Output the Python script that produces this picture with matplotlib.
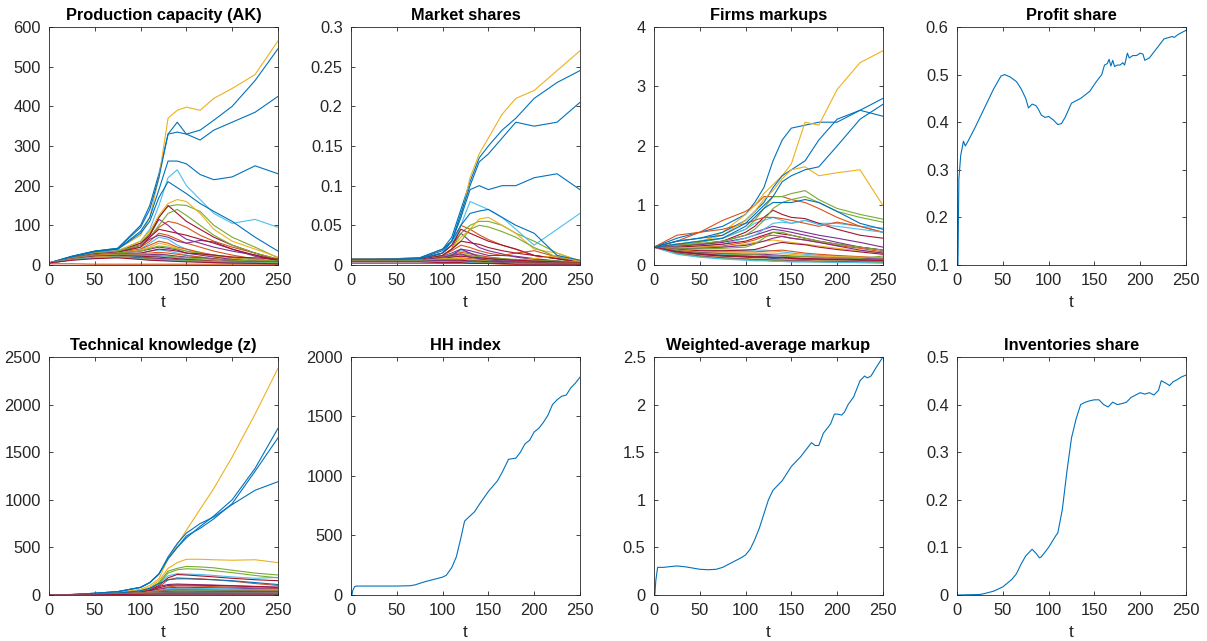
import matplotlib
matplotlib.use("Agg")
import matplotlib.pyplot as plt
from matplotlib.ticker import FuncFormatter, MultipleLocator
from cycler import cycler

# MATLAB default line colours
matlab_colors = ['#0072BD', '#D95319', '#EDB120', '#7E2F8E', '#77AC30', '#4DBEEE', '#A2142F']
plt.rcParams['axes.prop_cycle'] = cycler(color=matlab_colors)
plt.rcParams['font.family'] = ['Liberation Sans', 'DejaVu Sans']

# sampling times for the firm-level series
t_firm = [0, 25, 50, 75, 100, 110, 120, 130, 140, 150, 165, 180, 200, 225, 250]

# production capacity (AK), one row per firm
capacity = [
    [5, 22, 35, 42, 100, 150, 230, 330, 360, 330, 340, 365, 400, 465, 545],
    [5, 18, 28, 33, 50, 70, 95, 110, 105, 95, 75, 60, 45, 30, 15],
    [5, 20, 32, 40, 75, 120, 220, 370, 390, 398, 390, 420, 445, 480, 565],
    [5, 20, 30, 35, 50, 75, 115, 100, 80, 65, 55, 45, 35, 25, 12],
    [5, 20, 30, 35, 55, 80, 120, 148, 152, 150, 135, 100, 70, 45, 18],
    [5, 20, 30, 36, 60, 90, 150, 220, 240, 200, 165, 130, 105, 115, 95],
    [5, 20, 30, 35, 55, 75, 120, 150, 130, 110, 90, 70, 50, 30, 12],
    [5, 22, 35, 42, 95, 140, 220, 330, 335, 330, 315, 340, 360, 385, 425],
    [5, 18, 28, 32, 45, 60, 80, 75, 65, 55, 45, 35, 25, 15, 8],
    [5, 20, 30, 35, 60, 85, 125, 155, 165, 160, 130, 90, 60, 40, 20],
    [5, 18, 28, 32, 50, 65, 75, 70, 60, 55, 62, 58, 40, 22, 10],
    [5, 20, 30, 35, 50, 70, 100, 130, 140, 125, 100, 75, 50, 30, 15],
    [5, 18, 28, 32, 40, 55, 70, 65, 50, 40, 30, 22, 15, 10, 6],
    [5, 18, 28, 32, 45, 70, 90, 85, 80, 75, 65, 55, 40, 25, 10],
    [5, 21, 34, 40, 85, 120, 190, 262, 262, 255, 228, 215, 222, 250, 230],
    [5, 17, 26, 30, 40, 50, 60, 55, 45, 40, 32, 25, 18, 12, 6],
    [5, 17, 26, 30, 38, 45, 55, 50, 42, 35, 28, 22, 16, 12, 8],
    [5, 17, 26, 30, 35, 40, 45, 42, 38, 30, 25, 20, 14, 9, 5],
    [5, 17, 26, 30, 35, 42, 48, 45, 40, 35, 30, 25, 20, 15, 10],
    [5, 16, 25, 28, 30, 35, 38, 35, 30, 25, 20, 15, 10, 7, 4],
    [5, 16, 25, 28, 30, 35, 40, 38, 35, 30, 28, 25, 20, 18, 15],
    [5, 21, 34, 40, 80, 110, 170, 210, 195, 180, 155, 135, 110, 70, 35],
    [5, 16, 24, 27, 28, 30, 32, 30, 27, 24, 20, 16, 12, 8, 5],
    [5, 16, 24, 27, 27, 28, 28, 25, 22, 18, 14, 10, 8, 6, 4],
    [5, 15, 23, 25, 25, 26, 27, 25, 22, 20, 18, 15, 12, 10, 8],
    [5, 15, 23, 25, 24, 24, 24, 22, 20, 18, 16, 14, 12, 10, 8],
    [5, 15, 22, 24, 22, 22, 21, 20, 18, 15, 12, 9, 7, 5, 3],
    [5, 15, 22, 24, 22, 21, 20, 18, 16, 14, 12, 10, 9, 8, 7],
    [5, 14, 20, 22, 20, 18, 16, 14, 12, 10, 8, 6, 5, 4, 3],
    [3, 3, 2, 2, 2, 2, 2, 2, 2, 2, 2, 2, 2, 2, 2],
    [5, 14, 20, 22, 18, 16, 15, 14, 12, 10, 9, 8, 6, 5, 4],
    [5, 13, 18, 20, 18, 17, 16, 15, 14, 12, 10, 8, 7, 6, 5],
    [5, 13, 18, 20, 16, 15, 14, 13, 12, 11, 10, 9, 8, 7, 6],
    [5, 13, 18, 20, 15, 13, 12, 11, 10, 9, 8, 7, 6, 5, 4],
    [5, 12, 16, 18, 14, 12, 11, 10, 9, 8, 7, 6, 5, 4, 3],
]

# market shares
shares = [
    [0.007, 0.007, 0.008, 0.009, 0.02, 0.035, 0.07, 0.105, 0.135, 0.15, 0.17, 0.185, 0.21, 0.23, 0.245],
    [0.007, 0.007, 0.007, 0.007, 0.012, 0.02, 0.05, 0.045, 0.038, 0.032, 0.025, 0.02, 0.012, 0.008, 0.004],
    [0.007, 0.007, 0.007, 0.008, 0.02, 0.03, 0.06, 0.11, 0.14, 0.16, 0.19, 0.21, 0.22, 0.245, 0.27],
    [0.007, 0.007, 0.007, 0.007, 0.015, 0.025, 0.04, 0.03, 0.022, 0.018, 0.014, 0.01, 0.007, 0.005, 0.002],
    [0.007, 0.007, 0.007, 0.007, 0.012, 0.02, 0.04, 0.05, 0.055, 0.055, 0.05, 0.04, 0.03, 0.015, 0.005],
    [0.007, 0.007, 0.007, 0.008, 0.015, 0.025, 0.05, 0.08, 0.075, 0.07, 0.06, 0.045, 0.025, 0.045, 0.065],
    [0.007, 0.007, 0.007, 0.007, 0.015, 0.025, 0.045, 0.04, 0.035, 0.03, 0.025, 0.02, 0.012, 0.008, 0.003],
    [0.007, 0.007, 0.008, 0.009, 0.02, 0.03, 0.065, 0.1, 0.13, 0.14, 0.16, 0.18, 0.175, 0.18, 0.205],
    [0.007, 0.007, 0.007, 0.007, 0.012, 0.018, 0.025, 0.022, 0.018, 0.015, 0.012, 0.015, 0.018, 0.01, 0.004],
    [0.007, 0.007, 0.007, 0.007, 0.012, 0.02, 0.035, 0.045, 0.058, 0.06, 0.05, 0.04, 0.02, 0.015, 0.005],
    [0.007, 0.007, 0.007, 0.007, 0.011, 0.015, 0.02, 0.018, 0.015, 0.012, 0.012, 0.011, 0.008, 0.005, 0.003],
    [0.007, 0.007, 0.007, 0.007, 0.012, 0.02, 0.03, 0.045, 0.05, 0.048, 0.042, 0.035, 0.022, 0.01, 0.004],
    [0.007, 0.007, 0.007, 0.007, 0.01, 0.014, 0.018, 0.015, 0.012, 0.01, 0.008, 0.006, 0.005, 0.004, 0.003],
    [0.007, 0.007, 0.007, 0.007, 0.012, 0.02, 0.03, 0.028, 0.026, 0.022, 0.018, 0.015, 0.012, 0.008, 0.004],
    [0.007, 0.007, 0.007, 0.008, 0.018, 0.03, 0.06, 0.095, 0.1, 0.095, 0.1, 0.1, 0.11, 0.115, 0.095],
    [0.006, 0.006, 0.006, 0.006, 0.01, 0.013, 0.016, 0.014, 0.012, 0.01, 0.008, 0.006, 0.004, 0.003, 0.002],
    [0.006, 0.006, 0.006, 0.006, 0.01, 0.012, 0.014, 0.012, 0.01, 0.008, 0.007, 0.006, 0.008, 0.012, 0.004],
    [0.006, 0.006, 0.006, 0.006, 0.009, 0.012, 0.02, 0.015, 0.01, 0.008, 0.006, 0.005, 0.004, 0.003, 0.002],
    [0.006, 0.006, 0.006, 0.006, 0.009, 0.011, 0.013, 0.012, 0.01, 0.009, 0.008, 0.007, 0.006, 0.005, 0.004],
    [0.006, 0.006, 0.006, 0.006, 0.008, 0.01, 0.012, 0.01, 0.008, 0.006, 0.005, 0.004, 0.003, 0.002, 0.001],
    [0.006, 0.006, 0.006, 0.006, 0.008, 0.01, 0.011, 0.01, 0.009, 0.008, 0.007, 0.006, 0.005, 0.004, 0.003],
    [0.007, 0.007, 0.007, 0.008, 0.015, 0.03, 0.05, 0.065, 0.068, 0.07, 0.06, 0.05, 0.04, 0.012, 0.006],
    [0.005, 0.005, 0.005, 0.005, 0.007, 0.008, 0.009, 0.008, 0.007, 0.006, 0.005, 0.004, 0.003, 0.002, 0.002],
    [0.005, 0.005, 0.005, 0.006, 0.008, 0.008, 0.008, 0.007, 0.006, 0.005, 0.004, 0.003, 0.003, 0.002, 0.002],
    [0.005, 0.005, 0.005, 0.006, 0.01, 0.012, 0.014, 0.01, 0.008, 0.006, 0.005, 0.004, 0.003, 0.002, 0.001],
    [0.005, 0.005, 0.005, 0.006, 0.007, 0.007, 0.007, 0.006, 0.005, 0.005, 0.004, 0.003, 0.003, 0.002, 0.002],
    [0.005, 0.005, 0.005, 0.005, 0.006, 0.006, 0.006, 0.005, 0.004, 0.004, 0.003, 0.003, 0.002, 0.002, 0.001],
    [0.005, 0.005, 0.005, 0.005, 0.006, 0.006, 0.006, 0.005, 0.005, 0.004, 0.004, 0.003, 0.003, 0.002, 0.002],
    [0.005, 0.005, 0.005, 0.005, 0.005, 0.004, 0.004, 0.003, 0.003, 0.003, 0.002, 0.002, 0.002, 0.001, 0.001],
    [0.002, 0.002, 0.002, 0.002, 0.002, 0.002, 0.002, 0.002, 0.002, 0.002, 0.001, 0.001, 0.001, 0.001, 0.001],
    [0.005, 0.005, 0.005, 0.005, 0.004, 0.004, 0.003, 0.003, 0.003, 0.002, 0.002, 0.002, 0.002, 0.001, 0.001],
    [0.005, 0.005, 0.005, 0.005, 0.005, 0.005, 0.004, 0.004, 0.003, 0.003, 0.003, 0.002, 0.002, 0.002, 0.001],
    [0.005, 0.005, 0.005, 0.005, 0.004, 0.004, 0.004, 0.003, 0.003, 0.003, 0.002, 0.002, 0.002, 0.001, 0.001],
    [0.004, 0.004, 0.004, 0.004, 0.004, 0.003, 0.003, 0.003, 0.002, 0.002, 0.002, 0.002, 0.001, 0.001, 0.001],
    [0.004, 0.004, 0.004, 0.004, 0.003, 0.003, 0.003, 0.002, 0.002, 0.002, 0.002, 0.001, 0.001, 0.001, 0.001],
]

# firm markups
markups = [
    [0.3, 0.45, 0.55, 0.65, 0.85, 1.05, 1.3, 1.75, 2.1, 2.3, 2.35, 2.4, 2.4, 2.6, 2.5],
    [0.3, 0.4, 0.55, 0.75, 0.9, 1.0, 1.15, 1.15, 1.15, 1.1, 1.05, 0.95, 0.8, 0.65, 0.55],
    [0.3, 0.32, 0.38, 0.55, 0.85, 1.0, 1.2, 1.35, 1.5, 1.7, 2.4, 2.35, 2.95, 3.4, 3.6],
    [0.3, 0.33, 0.35, 0.4, 0.5, 0.55, 0.6, 0.65, 0.62, 0.6, 0.55, 0.5, 0.45, 0.38, 0.3],
    [0.3, 0.35, 0.38, 0.45, 0.6, 0.75, 0.95, 1.15, 1.15, 1.2, 1.25, 1.1, 0.95, 0.85, 0.77],
    [0.3, 0.35, 0.4, 0.45, 0.6, 0.7, 0.75, 0.8, 0.75, 0.7, 0.75, 0.7, 0.7, 0.65, 0.62],
    [0.3, 0.33, 0.35, 0.4, 0.55, 0.65, 0.8, 0.92, 0.85, 0.8, 0.78, 0.7, 0.6, 0.5, 0.45],
    [0.3, 0.4, 0.45, 0.55, 0.75, 0.9, 1.05, 1.3, 1.5, 1.6, 1.75, 2.1, 2.45, 2.6, 2.8],
    [0.3, 0.5, 0.55, 0.6, 0.7, 0.75, 0.8, 0.8, 0.78, 0.75, 0.7, 0.65, 0.72, 0.65, 0.55],
    [0.3, 0.35, 0.4, 0.5, 0.75, 0.9, 1.1, 1.25, 1.45, 1.6, 1.65, 1.5, 1.55, 1.6, 1.0],
    [0.3, 0.32, 0.34, 0.38, 0.45, 0.5, 0.55, 0.6, 0.58, 0.55, 0.5, 0.45, 0.38, 0.3, 0.25],
    [0.3, 0.33, 0.36, 0.4, 0.5, 0.6, 0.75, 0.95, 1.05, 1.1, 1.15, 1.05, 0.9, 0.8, 0.72],
    [0.3, 0.3, 0.32, 0.35, 0.45, 0.5, 0.6, 0.7, 0.72, 0.7, 0.75, 0.68, 0.65, 0.6, 0.55],
    [0.3, 0.3, 0.32, 0.35, 0.4, 0.45, 0.5, 0.55, 0.52, 0.5, 0.45, 0.4, 0.35, 0.3, 0.25],
    [0.3, 0.4, 0.45, 0.5, 0.7, 0.85, 1.0, 1.15, 1.4, 1.5, 1.6, 1.65, 2.0, 2.45, 2.7],
    [0.3, 0.28, 0.3, 0.32, 0.38, 0.42, 0.48, 0.5, 0.48, 0.45, 0.42, 0.38, 0.33, 0.28, 0.22],
    [0.3, 0.28, 0.3, 0.3, 0.35, 0.38, 0.4, 0.42, 0.4, 0.38, 0.35, 0.32, 0.28, 0.24, 0.2],
    [0.3, 0.27, 0.28, 0.3, 0.33, 0.36, 0.4, 0.45, 0.48, 0.45, 0.42, 0.38, 0.32, 0.25, 0.2],
    [0.3, 0.27, 0.27, 0.28, 0.3, 0.35, 0.45, 0.55, 0.55, 0.5, 0.45, 0.4, 0.35, 0.3, 0.25],
    [0.3, 0.26, 0.25, 0.25, 0.25, 0.25, 0.25, 0.24, 0.22, 0.2, 0.18, 0.16, 0.15, 0.13, 0.12],
    [0.3, 0.26, 0.24, 0.24, 0.25, 0.26, 0.3, 0.35, 0.38, 0.36, 0.34, 0.3, 0.26, 0.22, 0.18],
    [0.3, 0.35, 0.4, 0.45, 0.65, 0.8, 0.95, 1.05, 1.05, 1.05, 1.1, 1.05, 0.9, 0.7, 0.6],
    [0.3, 0.25, 0.22, 0.22, 0.22, 0.22, 0.23, 0.24, 0.25, 0.23, 0.2, 0.18, 0.16, 0.14, 0.12],
    [0.3, 0.25, 0.22, 0.2, 0.2, 0.2, 0.2, 0.2, 0.19, 0.18, 0.16, 0.15, 0.14, 0.13, 0.12],
    [0.3, 0.24, 0.21, 0.19, 0.18, 0.18, 0.18, 0.17, 0.16, 0.15, 0.14, 0.13, 0.12, 0.11, 0.1],
    [0.3, 0.24, 0.2, 0.18, 0.17, 0.17, 0.16, 0.16, 0.15, 0.14, 0.14, 0.13, 0.12, 0.11, 0.15],
    [0.3, 0.23, 0.19, 0.17, 0.15, 0.15, 0.14, 0.14, 0.13, 0.12, 0.11, 0.1, 0.09, 0.08, 0.07],
    [0.3, 0.23, 0.19, 0.16, 0.15, 0.14, 0.14, 0.13, 0.13, 0.12, 0.11, 0.1, 0.1, 0.09, 0.08],
    [0.3, 0.22, 0.17, 0.15, 0.13, 0.12, 0.12, 0.11, 0.1, 0.1, 0.09, 0.08, 0.07, 0.06, 0.05],
    [0.3, 0.2, 0.15, 0.12, 0.1, 0.09, 0.08, 0.08, 0.07, 0.07, 0.06, 0.06, 0.05, 0.05, 0.04],
    [0.3, 0.21, 0.16, 0.13, 0.11, 0.1, 0.1, 0.09, 0.09, 0.08, 0.08, 0.07, 0.07, 0.06, 0.06],
    [0.3, 0.2, 0.15, 0.12, 0.1, 0.09, 0.09, 0.08, 0.08, 0.07, 0.07, 0.06, 0.06, 0.05, 0.05],
    [0.3, 0.19, 0.14, 0.11, 0.09, 0.08, 0.08, 0.07, 0.07, 0.06, 0.06, 0.05, 0.05, 0.04, 0.04],
    [0.3, 0.18, 0.13, 0.1, 0.08, 0.07, 0.07, 0.06, 0.06, 0.05, 0.05, 0.05, 0.04, 0.04, 0.03],
    [0.3, 0.22, 0.18, 0.15, 0.14, 0.13, 0.13, 0.12, 0.12, 0.11, 0.1, 0.1, 0.09, 0.08, 0.08],
]

# technical knowledge (z)
knowledge = [
    [0, 5, 18, 35, 80, 130, 220, 380, 500, 600, 720, 830, 1000, 1330, 1750],
    [0, 2, 7, 16, 35, 50, 80, 160, 180, 175, 170, 160, 145, 120, 100],
    [0, 3, 10, 25, 60, 100, 170, 380, 530, 680, 900, 1120, 1450, 1900, 2380],
    [0, 2, 7, 16, 35, 55, 90, 110, 115, 112, 108, 104, 98, 90, 82],
    [0, 2, 8, 20, 45, 70, 130, 250, 280, 300, 295, 285, 260, 230, 210],
    [0, 2, 8, 20, 45, 70, 120, 200, 225, 220, 215, 205, 190, 175, 185],
    [0, 2, 7, 18, 40, 60, 100, 180, 215, 210, 200, 190, 175, 160, 150],
    [0, 5, 18, 35, 80, 130, 220, 380, 500, 620, 700, 800, 960, 1300, 1650],
    [0, 2, 6, 14, 28, 40, 60, 85, 95, 95, 92, 88, 82, 75, 68],
    [0, 2, 8, 20, 50, 80, 150, 280, 340, 375, 375, 370, 365, 370, 340],
    [0, 2, 6, 14, 28, 40, 60, 75, 80, 80, 78, 76, 72, 66, 60],
    [0, 2, 8, 18, 40, 65, 120, 230, 265, 275, 270, 255, 235, 205, 180],
    [0, 2, 6, 13, 25, 35, 50, 65, 70, 70, 68, 66, 62, 58, 55],
    [0, 2, 6, 15, 30, 45, 75, 100, 105, 105, 102, 100, 95, 88, 80],
    [0, 5, 18, 35, 80, 130, 220, 400, 540, 650, 750, 820, 950, 1100, 1190],
    [0, 2, 6, 12, 24, 32, 45, 55, 60, 60, 58, 56, 53, 50, 46],
    [0, 2, 5, 12, 22, 30, 40, 50, 55, 55, 54, 52, 50, 47, 44],
    [0, 2, 5, 11, 20, 28, 38, 48, 52, 52, 50, 48, 45, 42, 40],
    [0, 2, 5, 11, 20, 27, 35, 42, 46, 46, 45, 44, 42, 40, 38],
    [0, 2, 5, 10, 18, 24, 32, 38, 40, 40, 39, 38, 36, 34, 32],
    [0, 2, 5, 10, 18, 24, 30, 36, 38, 38, 37, 36, 35, 34, 33],
    [0, 2, 8, 20, 45, 70, 120, 160, 170, 170, 165, 160, 150, 130, 110],
    [0, 1, 4, 9, 16, 21, 26, 30, 32, 32, 31, 30, 29, 28, 27],
    [0, 1, 4, 9, 15, 20, 24, 27, 28, 28, 27, 27, 26, 25, 24],
    [0, 1, 4, 8, 14, 18, 22, 25, 26, 26, 25, 25, 24, 23, 22],
    [0, 1, 4, 8, 13, 17, 20, 22, 23, 23, 23, 22, 22, 21, 20],
    [0, 1, 3, 7, 12, 15, 18, 20, 21, 21, 20, 20, 19, 19, 18],
    [0, 1, 3, 7, 12, 15, 17, 19, 20, 20, 19, 19, 18, 18, 17],
    [0, 1, 3, 6, 10, 13, 15, 16, 17, 17, 17, 16, 16, 15, 15],
    [0, 0, 1, 2, 3, 3, 4, 4, 4, 4, 4, 4, 4, 4, 4],
    [0, 1, 3, 6, 10, 12, 14, 15, 16, 16, 15, 15, 15, 14, 14],
    [0, 1, 3, 6, 9, 11, 13, 14, 14, 14, 14, 13, 13, 13, 12],
    [0, 1, 2, 5, 8, 10, 12, 13, 13, 13, 13, 12, 12, 12, 11],
    [0, 1, 2, 5, 8, 9, 11, 12, 12, 12, 12, 11, 11, 11, 10],
    [0, 1, 2, 5, 7, 9, 10, 11, 11, 11, 11, 10, 10, 10, 9],
]

# aggregate series
t_profit = [1, 2, 4, 6, 7, 9, 12, 20, 30, 40, 48, 52, 58, 65, 70, 75, 78, 82, 86, 88, 92, 96, 100,
            105, 110, 114, 118, 125, 135, 145, 152, 158, 161, 164, 166, 168, 170, 172, 175, 178,
            181, 183, 186, 188, 192, 196, 200, 203, 205, 210, 218, 226, 235, 237, 242, 250]
profit_share = [0.1, 0.28, 0.33, 0.35, 0.36, 0.35, 0.36, 0.39, 0.43, 0.47, 0.497, 0.5, 0.495, 0.485,
                0.47, 0.45, 0.43, 0.438, 0.435, 0.43, 0.415, 0.41, 0.412, 0.405, 0.395, 0.397, 0.41,
                0.44, 0.45, 0.465, 0.485, 0.5, 0.52, 0.523, 0.532, 0.518, 0.53, 0.517, 0.52, 0.52,
                0.525, 0.52, 0.545, 0.535, 0.54, 0.54, 0.545, 0.543, 0.53, 0.535, 0.555, 0.575, 0.58,
                0.578, 0.585, 0.593]

t_hh = [1, 2, 4, 6, 30, 50, 65, 70, 80, 90, 100, 104, 110, 115, 120, 124, 128, 135, 140, 150, 160,
        165, 172, 180, 185, 190, 195, 200, 205, 210, 215, 220, 225, 230, 235, 240, 245, 250]
hh_index = [0, 40, 70, 75, 75, 75, 78, 85, 110, 130, 150, 165, 230, 320, 480, 620, 650, 700, 760,
            870, 960, 1030, 1140, 1150, 1200, 1270, 1300, 1370, 1400, 1450, 1510, 1600, 1640, 1670,
            1680, 1740, 1780, 1830]

t_wmarkup = [1, 2, 4, 10, 25, 35, 50, 60, 68, 75, 85, 95, 100, 105, 110, 115, 120, 125, 130, 140,
             150, 160, 168, 172, 176, 180, 185, 190, 193, 197, 200, 205, 208, 212, 218, 225, 230,
             233, 237, 242, 250]
w_markup = [0, 0.15, 0.29, 0.29, 0.305, 0.295, 0.27, 0.265, 0.27, 0.29, 0.34, 0.39, 0.42, 0.48,
            0.58, 0.7, 0.85, 1.0, 1.1, 1.2, 1.35, 1.45, 1.55, 1.6, 1.57, 1.57, 1.7, 1.76, 1.8, 1.9,
            1.9, 1.89, 1.92, 2.0, 2.08, 2.25, 2.3, 2.28, 2.3, 2.38, 2.5]

t_inv = [1, 25, 30, 40, 50, 60, 65, 70, 75, 80, 82, 86, 90, 92, 100, 108, 110, 115, 120, 125, 130,
         135, 140, 145, 150, 155, 160, 165, 170, 175, 180, 185, 190, 195, 200, 205, 210, 215, 220,
         223, 228, 232, 236, 240, 245, 250]
inv_share = [0, 0.001, 0.003, 0.008, 0.017, 0.033, 0.045, 0.065, 0.082, 0.092, 0.096, 0.088, 0.078,
             0.08, 0.1, 0.125, 0.13, 0.18, 0.26, 0.33, 0.37, 0.4, 0.405, 0.408, 0.41, 0.41, 0.4,
             0.395, 0.405, 0.4, 0.402, 0.405, 0.415, 0.42, 0.425, 0.422, 0.425, 0.42, 0.43, 0.45,
             0.445, 0.44, 0.448, 0.452, 0.458, 0.462]

fig = plt.figure(figsize=(12.07, 6.41), dpi=100)
lefts = [0.0406, 0.2908, 0.5418, 0.7929]
bottoms = [0.5866, 0.0718]
w, h = 0.1897, 0.3713
axc = '#262626'


def style(ax, title, ylim, ystep):
    ax.set_xlim(0, 250)
    ax.set_ylim(*ylim)
    ax.xaxis.set_major_locator(MultipleLocator(50))
    ax.yaxis.set_major_locator(MultipleLocator(ystep))
    fmt = FuncFormatter(lambda v, p: '{:g}'.format(round(v, 6)))
    ax.yaxis.set_major_formatter(fmt)
    ax.tick_params(direction='in', top=True, right=True, length=3, width=0.6,
                   labelsize=11.8, colors=axc, pad=6)
    for s in ax.spines.values():
        s.set_color(axc)
        s.set_linewidth(0.6)
    ax.set_title(title, fontsize=11.8, fontweight='bold', pad=5)
    ax.set_xlabel('t', fontsize=12.5, color=axc, labelpad=5)


def firm_panel(ax, data):
    for row in data:
        ax.plot(t_firm, row, lw=0.8)


axes = [[fig.add_axes([l, b, w, h]) for l in lefts] for b in bottoms]

firm_panel(axes[0][0], capacity)
style(axes[0][0], 'Production capacity (AK)', (0, 600), 100)

firm_panel(axes[0][1], shares)
style(axes[0][1], 'Market shares', (0, 0.3), 0.05)

firm_panel(axes[0][2], markups)
style(axes[0][2], 'Firms markups', (0, 4), 1)

axes[0][3].plot(t_profit, profit_share, lw=0.8)
style(axes[0][3], 'Profit share', (0.1, 0.6), 0.1)

firm_panel(axes[1][0], knowledge)
style(axes[1][0], 'Technical knowledge (z)', (0, 2500), 500)

axes[1][1].plot(t_hh, hh_index, lw=0.8)
style(axes[1][1], 'HH index', (0, 2000), 500)

axes[1][2].plot(t_wmarkup, w_markup, lw=0.8)
style(axes[1][2], 'Weighted-average markup', (0, 2.5), 0.5)

axes[1][3].plot(t_inv, inv_share, lw=0.8)
style(axes[1][3], 'Inventories share', (0, 0.5), 0.1)

fig.savefig('out.png', dpi=100, facecolor='white')
